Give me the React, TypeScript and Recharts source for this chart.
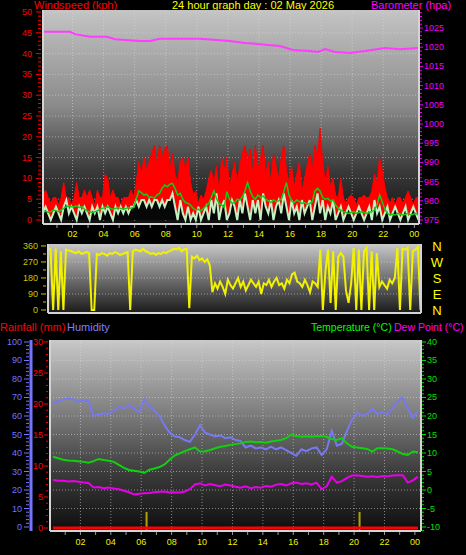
import { ComposedChart, Line, Area, XAxis, YAxis, CartesianGrid, ReferenceLine } from 'recharts';

const FONT = 'Liberation Sans, Arial, sans-serif';

// 10 minute wind samples, from 00:06
const windHours = Array.from({ length: 146 }, (_, i) => 0.1 + i / 6);
const gustKph = [
  5.4, 7.2, 5.4, 4, 5.4, 5.4, 3.6, 5.4, 9, 5.4,
  5.4, 3.6, 5.4, 9, 5.4, 5.4, 7.2, 5.4, 7.2, 5.4,
  3.6, 7.2, 5.4, 5.4, 11, 10, 5.4, 7.2, 5.4, 5.4,
  3.6, 5.4, 5.4, 5.4, 7.2, 5.4,
  9, 14, 11, 15, 12, 14, 16, 18, 13, 18,
  15, 17, 18, 12, 16, 11, 9, 14, 15, 12,
  15, 9, 6, 7, 4, 6, 5, 7, 10, 12,
  9, 13, 7, 15, 12, 15, 8, 11, 14, 9,
  13, 16, 18, 14, 17, 11, 18, 12, 15, 18,
  11, 14, 9, 16, 13, 10, 15, 18, 12, 9,
  13, 8, 11, 14, 7, 10, 13, 16, 12, 18,
  15, 22, 14, 9, 13, 8, 10, 6, 5.4, 10,
  5.4, 4, 5.4, 6, 5.4, 3.6, 5.4, 5.4, 6, 5.4,
  5.4, 7, 11, 9, 15, 12, 8, 5.4, 4, 5.4,
  3.6, 5.4, 5.4, 4, 5.4, 7, 5.4, 3.6, 5.4, 5.4,
];
const speedKph = [
  1.6, 3.2, 1.6, 0, 1.6, 3.2, 1.6, 0, 3.2, 4.8,
  1.6, 3.2, 1.6, 0, 3.2, 1.6, 3.2, 1.6, 0, 3.2,
  1.6, 3.2, 0, 3.2, 1.6, 3.2, 1.6, 0, 3.2, 1.6,
  3.2, 1.6, 3.2, 1.6, 3.2, 3.2,
  4.8, 3.2, 4.8, 4.8, 3.2, 4.8, 3.2, 4.8, 4.8, 3.2,
  4.8, 3.2, 4.8, 4.8, 6.4, 3.2, 0, 4.8, 1.6, 0,
  3.2, 0, 1.6, 0, 3.2, 0, 1.6, 3.2, 0, 4.8,
  1.6, 6.4, 0, 3.2, 4.8, 0, 1.6, 4.8, 3.2, 0,
  4.8, 1.6, 6.4, 3.2, 0, 4.8, 1.6, 4.8, 0, 6.4,
  3.2, 1.6, 4.8, 0, 3.2, 4.8, 1.6, 6.4, 3.2, 0,
  4.8, 1.6, 3.2, 0, 4.8, 1.6, 3.2, 4.8, 0, 3.2,
  6.4, 1.6, 4.8, 0, 3.2, 1.6, 4.8, 0, 1.6, 3.2,
  0, 1.6, 3.2, 1.6, 0, 1.6, 3.2, 1.6, 0, 1.6,
  3.2, 0, 4.8, 1.6, 3.2, 0, 1.6, 3.2, 0, 1.6,
  3.2, 1.6, 0, 1.6, 3.2, 0, 1.6, 3.2, 1.6, 0,
];
const avgKph = [
  2, 2.2, 1.8, 2, 2.4, 2.2, 2, 2.4, 2.8, 3.2,
  3.4, 3.2, 3.2, 3.4, 3, 3.2, 2.6, 2.2, 2, 1.8,
  2, 2.2, 2.6, 2.8, 3, 3.2, 2.8, 2.6, 2.8, 3,
  2.8, 2.6, 2.8, 3, 2.8, 3,
  5, 7, 6.6, 6, 6.2, 5.4, 5.6, 5.2, 6, 6.4,
  7.6, 8.4, 8, 8.6, 8.8, 7.6, 6, 6.4, 5, 4.2,
  4, 3.6, 2.8, 2.4, 2.6, 2.2, 2.8, 3.4, 4, 5.4,
  7, 5.2, 4, 3.6, 3, 6.8, 5, 4, 4.2, 5,
  4.8, 5.6, 7, 9, 7, 5.6, 5, 6, 5.4, 5.8,
  5, 4.6, 4.2, 4.8, 4.4, 4.6, 5, 6.8, 9, 6,
  4.6, 4.2, 4.8, 4.4, 4, 4.2, 3.8, 4, 4.4, 7,
  7.6, 7, 5.4, 5, 5.2, 4.6, 4.8, 3.6, 2.8, 2.4,
  2, 1.8, 1.6, 1.8, 2, 1.6, 1.8, 2, 1.8, 1.6,
  1.8, 2, 2.4, 3.6, 6, 4.4, 2.6, 1.6, 1.2, 1.4,
  1.2, 1.6, 1.4, 1.2, 1.4, 1.6, 1.2, 1.4, 1.6, 1.2,
];
const dirDeg = [
  350, 340, 0, 345, 0, 330, 0, 340, 335, 330,
  325, 320, 330, 315, 320, 325, 320, 0, 0, 315,
  310, 320, 315, 305, 320, 315, 325, 320, 310, 315,
  320, 325, 0, 330, 340, 335,
  330, 345, 330, 325, 315, 320, 310, 320, 315, 325,
  320, 330, 335, 345, 340, 350, 330, 340, 345, 10,
  300, 290, 305, 280, 290, 270, 285, 250, 100, 150,
  120, 160, 130, 90, 170, 140, 120, 150, 180, 130,
  160, 110, 140, 170, 150, 130, 160, 90, 150, 140,
  170, 130, 160, 180, 140, 150, 120, 170, 150, 200,
  210, 160, 150, 130, 170, 140, 100, 160, 150, 130,
  340, 0, 220, 340, 40, 330, 0, 300, 320, 300,
  110, 40, 150, 350, 0, 340, 0, 330, 350, 0,
  330, 0, 320, 130, 160, 140, 120, 170, 150, 180,
  350, 0, 345, 340, 350, 0, 330, 340, 355, 0,
];

const baroHours = [0.1, 1.84, 2.16, 3.12, 4.22, 4.73, 5.38, 6.34, 6.99, 7.63, 8.92, 10.2, 10.85, 12.13, 13.1, 14.07, 15.35, 16.19, 17.28, 17.8, 18.25, 18.89, 19.86, 20.82, 22.1, 23.07, 24.23];
const baroHpa = [1024, 1024, 1023.4, 1022.7, 1022.7, 1022.1, 1021.9, 1021.6, 1021.6, 1022.2, 1022.2, 1022.2, 1022, 1021.6, 1021.1, 1020.8, 1020.3, 1019.3, 1019, 1018.75, 1019.5, 1018.75, 1018.5, 1019, 1019.8, 1019.5, 1019.8];

// 20 minute samples, from 00:12
const climateHours = Array.from({ length: 73 }, (_, k) => 0.2 + k / 3);
const humidityPct = [
  67, 68, 69, 69.5, 69, 68, 68.5, 68, 60, 61,
  61.5, 61, 63, 65, 64, 66, 64, 62, 69, 65,
  63, 60, 55, 51, 49, 48.5, 47, 46, 50, 55,
  51, 50, 49, 49.5, 48, 48.5, 47, 46.5, 43, 44,
  42.5, 43, 42, 43.5, 42, 43, 41.5, 40, 38.5, 42,
  41, 42.5, 43, 39, 42, 52, 44, 45, 52, 58,
  62, 60, 61, 64, 61, 62, 61, 64, 68, 70,
  64, 59, 63,
];
const tempC = [
  9.0, 8.6, 8.2, 8.0, 7.9, 7.8, 7.6, 7.4, 7.8, 8.4,
  8.1, 7.9, 7.6, 6.8, 6.0, 5.4, 5.2, 5.0, 4.6, 5.5,
  5.8, 6.2, 6.9, 8.2, 9.3, 9.9, 10.5, 11.0, 11.5, 10.4,
  10.5, 10.8, 11.3, 11.7, 11.9, 12.2, 12.4, 12.6, 13.0, 13.1,
  12.9, 13.0, 12.8, 13.1, 13.3, 13.5, 14.0, 15.0, 14.6, 14.4,
  14.5, 14.4, 14.5, 14.6, 14.4, 13.8, 13.5, 14.0, 12.6, 11.7,
  11.5, 11.3, 11.1, 10.4, 11.3, 11.3, 11.2, 11.0, 10.4, 9.7,
  9.5, 10.4, 10.2,
];
const dewC = [
  2.7, 2.5, 2.5, 2.3, 2.4, 2.2, 2.0, 1.9, 0.7, 0.8,
  0.5, 0.7, 0.4, 0.2, -0.2, -0.6, -1.2, -1.0, -0.9, -0.8,
  -0.6, -0.5, -0.4, -0.7, -0.6, -0.7, -0.4, 0.2, 1.5, 1.8,
  1.2, 1.6, 1.3, 1.0, 1.5, 1.2, 0.9, 0.6, 1.0, 0.5,
  0.8, 0.6, 1.1, 0.9, 1.4, 1.6, 1.2, 1.8, 2.0, 1.6,
  1.8, 1.5, 2.0, 0.2, 1.0, 3.6, 2.0, 2.4, 3.3, 3.9,
  4.0, 3.8, 3.6, 3.7, 3.5, 3.8, 3.7, 3.9, 4.0, 4.0,
  2.0, 2.6, 3.6,
];

const rainHours = [0.2, 24.2];
const rainMm = [0, 0];
const rainTipHours = [6.35, 20.36];
const rainTipMm = [2.6, 2.6];

const hourTicks = Array.from({ length: 24 }, (_, i) => i + 1);
const compass: Record<number, string> = { 0: 'N', 90: 'E', 180: 'S', 270: 'W', 360: 'N' };

const range = (a: number, b: number, s: number) => {
  const out: number[] = [];
  for (let v = a; v <= b + 1e-9; v += s) out.push(Math.round(v * 1000) / 1000);
  return out;
};
const pairs = (hs: number[], vs: number[]) => hs.map((h, i) => ({ h, v: vs[i] }));

const gustData = pairs(windHours, gustKph);
const speedData = pairs(windHours, speedKph);
const avgData = pairs(windHours, avgKph);
const dirData = pairs(windHours, dirDeg);
const baroData = pairs(baroHours, baroHpa);
const humData = pairs(climateHours, humidityPct);
const tempData = pairs(climateHours, tempC);
const dewData = pairs(climateHours, dewC);
const rainData = pairs(rainHours, rainMm);

type TickOpt = { side: 'left' | 'right'; color: string; every: number; start: number; major: number; minor: number; gap: number };

const yTick = (o: TickOpt) => (p: any) => {
  const v = Number(p.payload.value);
  const isMajor = Math.abs(v / o.every - Math.round(v / o.every)) < 1e-6;
  const s = o.side === 'left' ? -1 : 1;
  const len = isMajor ? o.major : o.minor;
  return (
    <g>
      <line x1={p.x + s * o.start} x2={p.x + s * (o.start + len)} y1={p.y} y2={p.y} stroke={o.color} />
      {isMajor && (
        <text x={p.x + s * o.gap} y={p.y + 3} textAnchor={o.side === 'left' ? 'end' : 'start'} fill={o.color} fontSize={9} fontFamily={FONT}>
          {v}
        </text>
      )}
    </g>
  );
};

const xTick = (dy: number) => (p: any) => {
  const v = Number(p.payload.value);
  return (
    <g>
      <line x1={p.x} x2={p.x} y1={p.y + 1} y2={p.y + 4} stroke="#9a9a9a" />
      {v % 2 === 0 && (
        <text x={p.x} y={p.y + dy} textAnchor="middle" fill="#f0f000" fontSize={9} fontFamily={FONT}>
          {String(v % 24).padStart(2, '0')}
        </text>
      )}
    </g>
  );
};

const compassTick = (p: any) => (
  <text x={p.x + 16} y={p.y + 5} textAnchor="middle" fill="#ffff00" fontSize={13} fontFamily={FONT}>
    {compass[Number(p.payload.value)]}
  </text>
);

const frame = { stroke: '#d4d4d4', strokeWidth: 2 };
const gridStyle = { stroke: '#d8d8d8', strokeDasharray: '1 2', strokeOpacity: 0.55 };

function WindChart() {
  return (
    <ComposedChart width={466} height={245} margin={{ top: 10, right: 0, bottom: 0, left: 0 }}>
      <defs>
        <linearGradient id="bgWind" x1="0" y1="0" x2="0" y2="1">
          <stop offset="0%" stopColor="#c4c4c4" />
          <stop offset="45%" stopColor="#8a8a8a" />
          <stop offset="75%" stopColor="#3a3a3a" />
          <stop offset="100%" stopColor="#101010" />
        </linearGradient>
      </defs>
      <CartesianGrid yAxisId="ws" fill="url(#bgWind)" fillOpacity={1} {...gridStyle} horizontalValues={range(5, 50, 5)} verticalValues={range(2, 22, 2)} />
      <XAxis type="number" dataKey="h" domain={[0.1, 24.3]} allowDataOverflow ticks={hourTicks} interval={0} height={21} tickSize={0} tickMargin={0} tickLine={false} axisLine={frame} tick={xTick(13)} />
      <YAxis yAxisId="ws" type="number" domain={[-0.96, 50.48]} allowDataOverflow ticks={range(0, 50, 1)} interval={0} width={43} tickSize={0} tickMargin={0} tickLine={false} axisLine={frame}
        tick={yTick({ side: 'left', color: '#ff0000', every: 5, start: 2, major: 5, minor: 3, gap: 11 })} />
      <YAxis yAxisId="baro" orientation="right" type="number" domain={[973.96, 1029.69]} allowDataOverflow ticks={range(974, 1029, 1)} interval={0} width={47} tickSize={0} tickMargin={0} tickLine={false} axisLine={frame}
        tick={yTick({ side: 'right', color: '#f000f0', every: 5, start: 1, major: 3, minor: 2, gap: 5 })} />
      <Area yAxisId="ws" data={gustData} dataKey="v" type="linear" stroke="#ff0000" fill="#ff0000" fillOpacity={1} dot={false} activeDot={false} isAnimationActive={false} />
      <Area yAxisId="ws" data={speedData} dataKey="v" type="linear" stroke="#c4f0c4" strokeWidth={2} fill="#070707" fillOpacity={1} dot={false} activeDot={false} isAnimationActive={false} />
      <Line yAxisId="ws" data={avgData} dataKey="v" type="linear" stroke="#14cc14" strokeWidth={1.5} dot={false} activeDot={false} isAnimationActive={false} />
      <Line yAxisId="baro" data={baroData} dataKey="v" type="linear" stroke="#ff3cff" strokeWidth={2} dot={false} activeDot={false} isAnimationActive={false} />
    </ComposedChart>
  );
}

function DirectionChart() {
  return (
    <ComposedChart width={466} height={80} margin={{ top: 6, right: 0, bottom: 4, left: 0 }}>
      <defs>
        <linearGradient id="bgDir" x1="0" y1="0" x2="0" y2="1">
          <stop offset="0%" stopColor="#c8c8c8" />
          <stop offset="50%" stopColor="#707070" />
          <stop offset="100%" stopColor="#1a1a1a" />
        </linearGradient>
      </defs>
      <CartesianGrid yAxisId="dir" fill="url(#bgDir)" fillOpacity={1} {...gridStyle} vertical={false} horizontalValues={[90, 180, 270, 360]} />
      <XAxis type="number" dataKey="h" domain={[0.1, 24.3]} allowDataOverflow height={1} tick={false} tickLine={false} axisLine={frame} />
      <YAxis yAxisId="dir" type="number" domain={[-17, 371]} allowDataOverflow ticks={range(0, 360, 45)} interval={0} width={48} tickSize={0} tickMargin={0} tickLine={false} axisLine={frame}
        tick={yTick({ side: 'left', color: '#c8c800', every: 90, start: 2, major: 5, minor: 3, gap: 10 })} />
      <YAxis yAxisId="compass" orientation="right" type="number" domain={[-17, 371]} allowDataOverflow ticks={[0, 90, 180, 270, 360]} interval={0} width={45} tickSize={0} tickMargin={0} tickLine={false} axisLine={frame} tick={compassTick} />
      <Line yAxisId="dir" data={dirData} dataKey="v" type="linear" stroke="#f2f200" strokeWidth={2} dot={false} activeDot={false} isAnimationActive={false} />
    </ComposedChart>
  );
}

function ClimateChart() {
  return (
    <ComposedChart width={466} height={220} margin={{ top: 5, right: 0, bottom: 0, left: 0 }}>
      <defs>
        <linearGradient id="bgClim" x1="0" y1="0" x2="0" y2="1">
          <stop offset="0%" stopColor="#c8c8c8" />
          <stop offset="35%" stopColor="#848484" />
          <stop offset="70%" stopColor="#3a3a3a" />
          <stop offset="100%" stopColor="#0e0e0e" />
        </linearGradient>
      </defs>
      <CartesianGrid yAxisId="y2hum" fill="url(#bgClim)" fillOpacity={1} {...gridStyle} horizontalValues={range(10, 100, 10)} verticalValues={range(2, 22, 2)} />
      <XAxis type="number" dataKey="h" domain={[0, 24.4]} allowDataOverflow ticks={hourTicks} interval={0} height={24} tickSize={0} tickMargin={0} tickLine={false} axisLine={frame} tick={xTick(14)} />
      <YAxis yAxisId="y1rain" type="number" domain={[-0.48, 30.32]} allowDataOverflow ticks={range(0, 30, 1)} interval={0} width={19} tickSize={0} tickMargin={0} tickLine={false} axisLine={frame}
        tick={yTick({ side: 'left', color: '#ff0000', every: 5, start: 2, major: 4, minor: 2, gap: 7 })} />
      <YAxis yAxisId="y2hum" type="number" domain={[-2.16, 101.08]} allowDataOverflow ticks={range(0, 100, 2)} interval={0} width={31} tickSize={0} tickMargin={0} tickLine={false} axisLine={{ stroke: '#7474ff', strokeWidth: 3 }}
        tick={yTick({ side: 'left', color: '#7474ff', every: 10, start: 2, major: 5, minor: 3, gap: 9 })} />
      <YAxis yAxisId="temp" orientation="right" type="number" domain={[-11.08, 40.54]} allowDataOverflow ticks={range(-11, 40, 1)} interval={0} width={45} tickSize={0} tickMargin={0} tickLine={false} axisLine={frame}
        tick={yTick({ side: 'right', color: '#00e000', every: 5, start: 1, major: 4, minor: 2, gap: 6 })} />
      {rainTipHours.map((h, i) => (
        <ReferenceLine key={i} yAxisId="y1rain" segment={[{ x: h, y: -0.48 }, { x: h, y: rainTipMm[i] }]} stroke="#b0a400" strokeWidth={2} ifOverflow="visible" />
      ))}
      <Line yAxisId="y2hum" data={humData} dataKey="v" type="linear" stroke="#7878f0" strokeWidth={2} dot={false} activeDot={false} isAnimationActive={false} />
      <Line yAxisId="temp" data={tempData} dataKey="v" type="linear" stroke="#10d010" strokeWidth={2} dot={false} activeDot={false} isAnimationActive={false} />
      <Line yAxisId="temp" data={dewData} dataKey="v" type="linear" stroke="#e800e8" strokeWidth={2} dot={false} activeDot={false} isAnimationActive={false} />
      <Line yAxisId="y1rain" data={rainData} dataKey="v" type="linear" stroke="#ff0000" strokeWidth={3} dot={false} activeDot={false} isAnimationActive={false} />
    </ComposedChart>
  );
}

export default function App() {
  const label = (x: number, y: number, color: string, text: string, size = 11) => (
    <text x={x} y={y} fill={color} fontSize={size} fontFamily={FONT}>{text}</text>
  );
  return (
    <div style={{ position: 'absolute', left: 0, top: 0, width: 466, height: 555, background: '#000', overflow: 'hidden' }}>
      <svg width={466} height={555} style={{ position: 'absolute', left: 0, top: 0 }}>
        {label(34, 9, '#ff0000', 'Windspeed (kph)')}
        {label(172, 9, '#ffff00', '24 hour graph day : 02 May 2026')}
        {label(371, 9, '#ff00ff', 'Barometer (hpa)')}
        {label(0, 331, '#ff0000', 'Rainfall (mm)')}
        {label(67, 331, '#8080ff', 'Humidity')}
        {label(311, 331, '#00ff00', 'Temperature (°C)', 10.5)}
        {label(394, 331, '#ff00ff', 'Dew Point (°C)', 10.5)}
      </svg>
      <div style={{ position: 'absolute', left: 0, top: 0 }}>
        <WindChart />
      </div>
      <div style={{ position: 'absolute', left: 0, top: 238 }}>
        <DirectionChart />
      </div>
      <div style={{ position: 'absolute', left: 0, top: 335 }}>
        <ClimateChart />
      </div>
    </div>
  );
}
